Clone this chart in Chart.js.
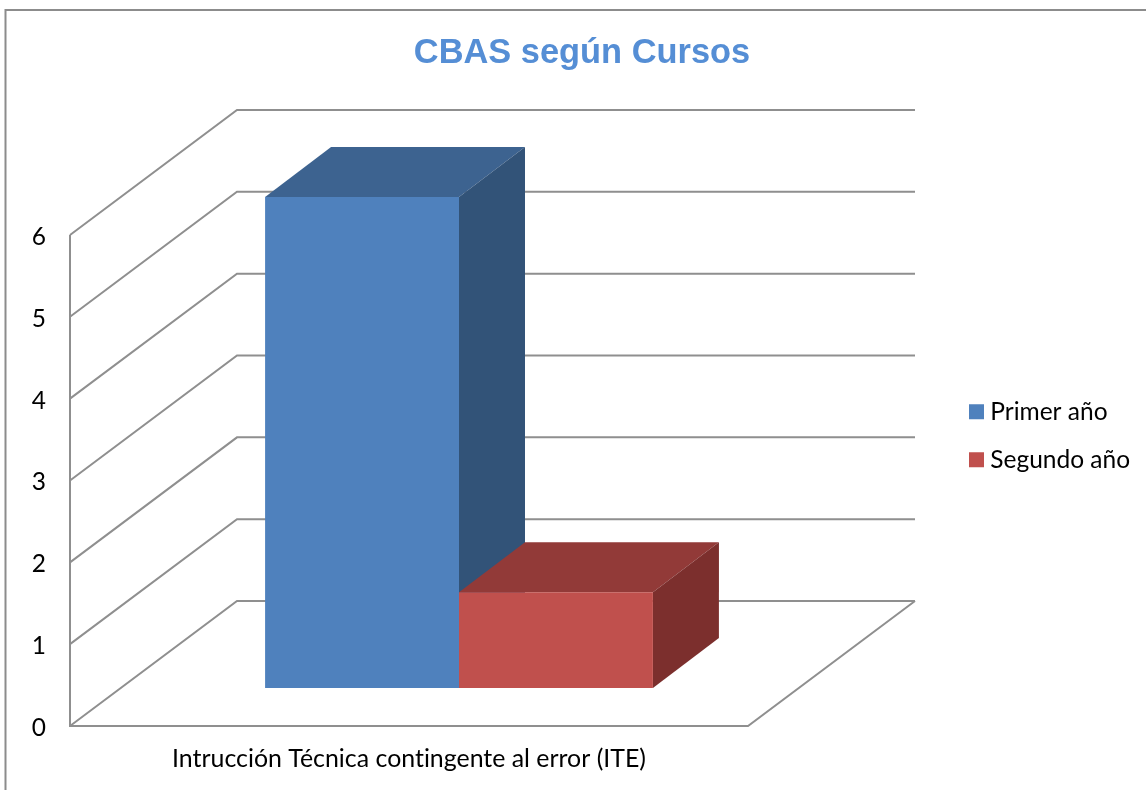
<!DOCTYPE html>
<html>
<head>
<meta charset="utf-8">
<style>html,body{margin:0;padding:0;background:#fff}canvas{display:block}</style>
<script src="https://cdn.jsdelivr.net/npm/chart.js@4"></script>
</head>
<body>
<canvas id="c" width="1146" height="790"></canvas>
<script>
const categories = ["Intrucción Técnica contingente al error (ITE)"];
const seriesNames = ["Primer año", "Segundo año"];
const primerAno = [6];
const segundoAno = [1.17];
const chartTitle = "CBAS según Cursos";

const FONT = "Lato, Carlito, sans-serif";
const LINE = "#8f8f8f";
const WALL = {dx: 167, dy: 125};      // projection of the depth of the floor
const BAR_OFFSET = {dx: 50, dy: 38};  // where the bars stand on the floor
const BAR_DEPTH = {dx: 66, dy: 50};   // depth of each bar
const SHADES = [
  {top: "#3d6390", side: "#325378"},
  {top: "#923a38", side: "#7c2f2d"}
];

const pseudo3d = {
  id: "pseudo3d",
  beforeDraw(chart) {
    const ctx = chart.ctx;
    ctx.textRendering = "optimizeSpeed";
    ctx.save();
    ctx.fillStyle = "#fff";
    ctx.fillRect(0, 0, chart.width, chart.height);
    ctx.strokeStyle = "#8c8c8c";
    ctx.lineWidth = 2;
    ctx.beginPath();
    ctx.moveTo(5.5, chart.height);
    ctx.lineTo(5.5, 10);
    ctx.lineTo(chart.width, 10);
    ctx.stroke();
    ctx.restore();
  },
  afterLayout(chart) {
    // title is centred over the full frame, legend sits at the right of the walls
    chart.titleBlock.left = 18;
    chart.titleBlock.right = 1146;
    const l = chart.legend;
    const w = l.width, h = l.height;
    l.left = 975 - l.options.labels.padding;
    l.right = l.left + w;
    l.top = 376;
    l.bottom = l.top + h;
  },
  beforeDatasetsDraw(chart) {
    const ctx = chart.ctx, y = chart.scales.y, a = chart.chartArea;
    ctx.save();
    ctx.strokeStyle = LINE;
    ctx.lineWidth = 2;
    ctx.lineJoin = "miter";
    y.ticks.forEach(t => {
      const py = y.getPixelForValue(t.value);
      ctx.beginPath();
      ctx.moveTo(a.left, py);
      ctx.lineTo(a.left + WALL.dx, py - WALL.dy);
      ctx.lineTo(a.right + WALL.dx, py - WALL.dy);
      ctx.stroke();
    });
    const p0 = y.getPixelForValue(0);
    ctx.beginPath();
    ctx.moveTo(a.left, y.getPixelForValue(y.max));
    ctx.lineTo(a.left, p0);
    ctx.lineTo(a.right, p0);
    ctx.lineTo(a.right + WALL.dx, p0 - WALL.dy);
    ctx.stroke();
    ctx.restore();

    // top and side faces, first series first, all behind the front faces
    ctx.save();
    ctx.translate(BAR_OFFSET.dx, -BAR_OFFSET.dy);
    chart.data.datasets.forEach((ds, i) => {
      const shade = SHADES[i];
      chart.getDatasetMeta(i).data.forEach(bar => {
        const p = bar.getProps(["x", "y", "base", "width"], true);
        const l = p.x - p.width / 2, r = p.x + p.width / 2;
        ctx.fillStyle = shade.top;
        ctx.beginPath();
        ctx.moveTo(l, p.y);
        ctx.lineTo(l + BAR_DEPTH.dx, p.y - BAR_DEPTH.dy);
        ctx.lineTo(r + BAR_DEPTH.dx, p.y - BAR_DEPTH.dy);
        ctx.lineTo(r, p.y);
        ctx.closePath();
        ctx.fill();
        ctx.fillStyle = shade.side;
        ctx.beginPath();
        ctx.moveTo(r, p.y);
        ctx.lineTo(r + BAR_DEPTH.dx, p.y - BAR_DEPTH.dy);
        ctx.lineTo(r + BAR_DEPTH.dx, p.base - BAR_DEPTH.dy);
        ctx.lineTo(r, p.base);
        ctx.closePath();
        ctx.fill();
      });
    });
    ctx.restore();
  },
  beforeDatasetDraw(chart) {
    chart.ctx.save();
    chart.ctx.translate(BAR_OFFSET.dx, -BAR_OFFSET.dy);
  },
  afterDatasetDraw(chart) {
    chart.ctx.restore();
  }
};

new Chart(document.getElementById("c"), {
  type: "bar",
  data: {
    labels: categories,
    datasets: [
      {label: seriesNames[0], data: primerAno, backgroundColor: "#4f81bd", clip: false,
       categoryPercentage: 0.572, barPercentage: 1},
      {label: seriesNames[1], data: segundoAno, backgroundColor: "#c0504d", clip: false,
       categoryPercentage: 0.572, barPercentage: 1}
    ]
  },
  options: {
    responsive: false,
    animation: false,
    layout: {padding: {left: 18, right: 398, top: 0, bottom: 0}},
    plugins: {
      tooltip: {enabled: false},
      title: {
        display: true,
        text: chartTitle,
        color: "#558ed5",
        font: {family: "'Liberation Sans', Arial, sans-serif", size: 34.4, weight: "bold"},
        padding: {top: 33, bottom: 160.7}
      },
      legend: {
        position: "chartArea",
        align: "start",
        labels: {
          font: {family: FONT, size: 24.5},
          color: "#000",
          boxWidth: 3,
          boxHeight: 3,
          padding: 23.5,
          generateLabels(chart) {
            return Chart.defaults.plugins.legend.labels.generateLabels(chart).map(i => {
              i.lineWidth = 12;
              i.strokeStyle = i.fillStyle;
              i.lineJoin = "miter";
              return i;
            });
          }
        }
      }
    },
    scales: {
      x: {
        grid: {display: false, drawTicks: false},
        border: {display: false},
        ticks: {color: "#000", font: {family: FONT, size: 24.9}, padding: 18.5, maxRotation: 0},
        afterFit(s) { s.height = 64; }
      },
      y: {
        min: 0,
        max: 6,
        grid: {display: false, drawTicks: false},
        border: {display: false},
        ticks: {stepSize: 1, color: "#000", font: {family: FONT, size: 24.5}, padding: 24, labelOffset: 2},
        afterFit(s) { s.width = 52; }
      }
    }
  },
  plugins: [pseudo3d]
});
</script>
</body>
</html>
